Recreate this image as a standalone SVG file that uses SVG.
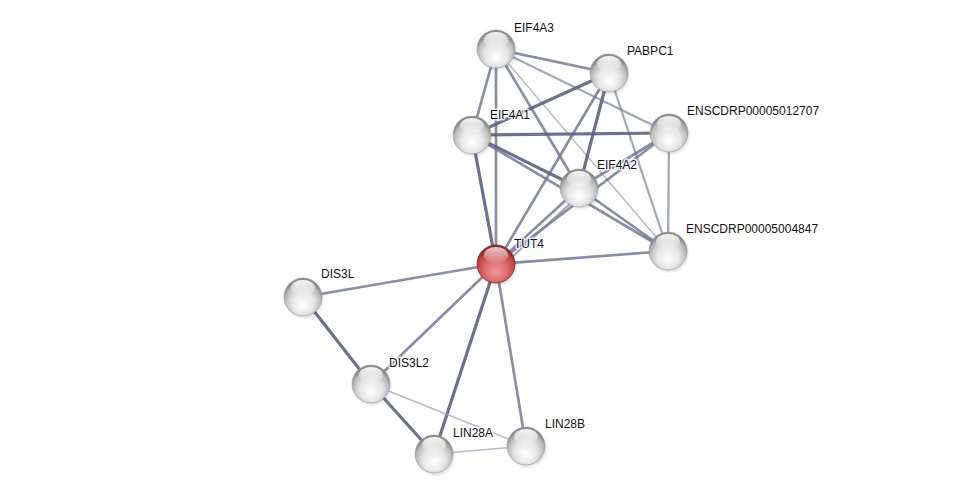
<svg xmlns="http://www.w3.org/2000/svg" width="976" height="500" viewBox="0 0 976 500">
<defs>
<radialGradient id="gw" cx="50%" cy="62%" r="55%" fx="50%" fy="72%">
<stop offset="0" stop-color="#ffffff"/>
<stop offset="0.55" stop-color="#e4e4e4"/>
<stop offset="0.85" stop-color="#bababa"/>
<stop offset="1" stop-color="#8a8a8a"/>
</radialGradient>
<radialGradient id="gr" cx="50%" cy="62%" r="55%" fx="50%" fy="72%">
<stop offset="0" stop-color="#f29a9a"/>
<stop offset="0.55" stop-color="#da6c6c"/>
<stop offset="0.85" stop-color="#bf4a4a"/>
<stop offset="1" stop-color="#8a2a2a"/>
</radialGradient>
<linearGradient id="hl" x1="0" y1="0" x2="0" y2="1">
<stop offset="0" stop-color="#ffffff" stop-opacity="0.95"/>
<stop offset="1" stop-color="#ffffff" stop-opacity="0.05"/>
</linearGradient>
<radialGradient id="sh" cx="50%" cy="50%" r="50%">
<stop offset="0.6" stop-color="#000" stop-opacity="0.25"/>
<stop offset="1" stop-color="#000" stop-opacity="0"/>
</radialGradient>
<g id="ball">
<circle cx="1.5" cy="2.5" r="20.5" fill="url(#sh)"/>
<circle r="19" fill="url(#gw)" stroke="#9a9a9a" stroke-width="0.6"/>
<ellipse cx="0" cy="-9" rx="12" ry="8" fill="url(#hl)"/>
</g>
<g id="rball">
<circle cx="1.5" cy="2.5" r="20.5" fill="url(#sh)"/>
<circle r="19" fill="url(#gr)" stroke="#8a2a2a" stroke-width="0.8"/>
<ellipse cx="0" cy="-9" rx="12" ry="8" fill="url(#hl)" opacity="0.8"/>
</g>
</defs>
<style>
.e{fill:none;stroke-linecap:round}
.t{stroke:#5c6382;stroke-width:3.2;stroke-opacity:0.9}
.m{stroke:#6a7192;stroke-width:2.7;stroke-opacity:0.8}
.l{stroke:#7a819e;stroke-width:2.3;stroke-opacity:0.7}
.w{stroke:#9ea3b8;stroke-width:1.5;stroke-opacity:0.75}
text{font-family:"Liberation Sans",Arial,sans-serif;font-size:12px;fill:#111;stroke:#fff;stroke-width:3;stroke-opacity:0.8;paint-order:stroke;stroke-linejoin:round}
</style>
<rect width="976" height="500" fill="#ffffff"/>
<g id="edges">
<line class="e m" x1="496" y1="49" x2="609" y2="73"/>
<line class="e m" x1="496" y1="49" x2="472" y2="135"/>
<line class="e m" x1="496" y1="49" x2="496" y2="264"/>
<line class="e m" x1="496" y1="49" x2="579" y2="188"/>
<line class="e l" x1="496" y1="49" x2="669" y2="133"/>
<line class="e w" x1="496" y1="49" x2="668" y2="251"/>
<line class="e t" x1="609" y1="73" x2="472" y2="135"/>
<line class="e m" x1="609" y1="73" x2="496" y2="264"/>
<line class="e t" x1="609" y1="73" x2="579" y2="188"/>
<line class="e l" x1="609" y1="73" x2="668" y2="251"/>
<line class="e t" x1="472" y1="135" x2="669" y2="133"/>
<line class="e t" x1="472" y1="135" x2="579" y2="188"/>
<line class="e m" x1="472" y1="135" x2="668" y2="251"/>
<line class="e t" x1="472" y1="135" x2="496" y2="264"/>
<line class="e m" x1="669" y1="133" x2="579" y2="188"/>
<line class="e m" x1="669" y1="133" x2="496" y2="264"/>
<line class="e l" x1="669" y1="133" x2="668" y2="251"/>
<line class="e m" x1="579" y1="188" x2="668" y2="251"/>
<line class="e m" x1="579" y1="188" x2="496" y2="264"/>
<line class="e l" x1="583" y1="192" x2="500" y2="268"/>
<line class="e m" x1="496" y1="264" x2="668" y2="251"/>
<line class="e m" x1="496" y1="264" x2="303" y2="297"/>
<line class="e m" x1="496" y1="264" x2="371" y2="384"/>
<line class="e t" x1="496" y1="264" x2="434" y2="454"/>
<line class="e m" x1="496" y1="264" x2="526" y2="446"/>
<line class="e t" x1="303" y1="297" x2="371" y2="384"/>
<line class="e t" x1="371" y1="384" x2="434" y2="454"/>
<line class="e w" x1="371" y1="384" x2="526" y2="446"/>
<line class="e w" x1="434" y1="454" x2="526" y2="446"/>
</g>
<g id="EIF4A3"><use href="#ball" x="496" y="49"/><text x="514" y="32">EIF4A3</text></g>
<g id="PABPC1"><use href="#ball" x="609" y="73"/><text x="627" y="55">PABPC1</text></g>
<g id="EIF4A1"><use href="#ball" x="472" y="135"/><text x="490" y="119">EIF4A1</text></g>
<g id="ENSCDRP00005012707"><use href="#ball" x="669" y="133"/><text x="687" y="115">ENSCDRP00005012707</text></g>
<g id="EIF4A2"><use href="#ball" x="579" y="188"/><text x="597" y="169">EIF4A2</text></g>
<g id="ENSCDRP00005004847"><use href="#ball" x="668" y="251"/><text x="686" y="233">ENSCDRP00005004847</text></g>
<g id="TUT4"><use href="#rball" x="496" y="264"/><text x="514" y="248">TUT4</text></g>
<g id="DIS3L"><use href="#ball" x="303" y="297"/><text x="321" y="278">DIS3L</text></g>
<g id="DIS3L2"><use href="#ball" x="371" y="384"/><text x="389" y="367">DIS3L2</text></g>
<g id="LIN28A"><use href="#ball" x="434" y="454"/><text x="453" y="437">LIN28A</text></g>
<g id="LIN28B"><use href="#ball" x="526" y="446"/><text x="545" y="428">LIN28B</text></g>
</svg>
